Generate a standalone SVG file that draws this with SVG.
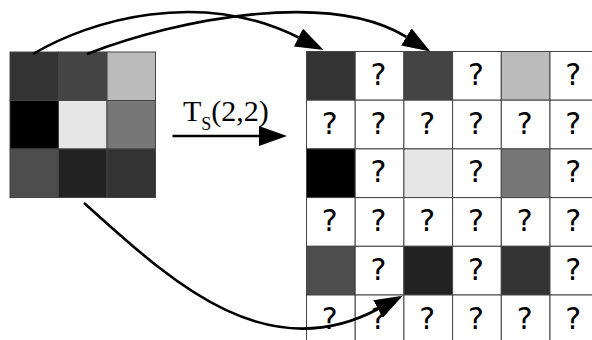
<svg xmlns="http://www.w3.org/2000/svg" width="592" height="340" viewBox="0 0 592 340">
<style>
.cell{stroke:#444;stroke-width:1}
.q{font-family:"DejaVu Sans",sans-serif;font-size:30px;fill:#000;text-anchor:middle}
.conn{fill:none;stroke:#000;stroke-width:2.6}
.lbl{font-family:"Liberation Serif",serif;font-size:30px;fill:#000}
</style>
<defs>
<marker id="ah" viewBox="0 0 28 20" markerWidth="28" markerHeight="20" refX="0" refY="10" orient="auto" markerUnits="userSpaceOnUse">
<path d="M0,0 L28,10 L0,20 Z" fill="#000"/>
</marker>
</defs>
<rect width="592" height="340" fill="#fff"/>
<g id="source">
<rect class="cell" x="10" y="52" width="48.5" height="48.5" fill="#333"/>
<rect class="cell" x="58.5" y="52" width="48.5" height="48.5" fill="#444"/>
<rect class="cell" x="107" y="52" width="48.5" height="48.5" fill="#bbb"/>
<rect class="cell" x="10" y="100.5" width="48.5" height="48.5" fill="#000"/>
<rect class="cell" x="58.5" y="100.5" width="48.5" height="48.5" fill="#e6e6e6"/>
<rect class="cell" x="107" y="100.5" width="48.5" height="48.5" fill="#777"/>
<rect class="cell" x="10" y="149" width="48.5" height="48.5" fill="#4d4d4d"/>
<rect class="cell" x="58.5" y="149" width="48.5" height="48.5" fill="#222"/>
<rect class="cell" x="107" y="149" width="48.5" height="48.5" fill="#333"/>
</g>
<g id="target">
<rect class="cell" x="306.5" y="51.5" width="48.7" height="48.7" fill="#333"/>
<rect class="cell" x="355.2" y="51.5" width="48.7" height="48.7" fill="#fff"/>
<rect class="cell" x="403.9" y="51.5" width="48.7" height="48.7" fill="#444"/>
<rect class="cell" x="452.6" y="51.5" width="48.7" height="48.7" fill="#fff"/>
<rect class="cell" x="501.3" y="51.5" width="48.7" height="48.7" fill="#bbb"/>
<rect class="cell" x="550" y="51.5" width="48.7" height="48.7" fill="#fff"/>
<rect class="cell" x="306.5" y="100.2" width="48.7" height="48.7" fill="#fff"/>
<rect class="cell" x="355.2" y="100.2" width="48.7" height="48.7" fill="#fff"/>
<rect class="cell" x="403.9" y="100.2" width="48.7" height="48.7" fill="#fff"/>
<rect class="cell" x="452.6" y="100.2" width="48.7" height="48.7" fill="#fff"/>
<rect class="cell" x="501.3" y="100.2" width="48.7" height="48.7" fill="#fff"/>
<rect class="cell" x="550" y="100.2" width="48.7" height="48.7" fill="#fff"/>
<rect class="cell" x="306.5" y="148.9" width="48.7" height="48.7" fill="#000"/>
<rect class="cell" x="355.2" y="148.9" width="48.7" height="48.7" fill="#fff"/>
<rect class="cell" x="403.9" y="148.9" width="48.7" height="48.7" fill="#e6e6e6"/>
<rect class="cell" x="452.6" y="148.9" width="48.7" height="48.7" fill="#fff"/>
<rect class="cell" x="501.3" y="148.9" width="48.7" height="48.7" fill="#777"/>
<rect class="cell" x="550" y="148.9" width="48.7" height="48.7" fill="#fff"/>
<rect class="cell" x="306.5" y="197.6" width="48.7" height="48.7" fill="#fff"/>
<rect class="cell" x="355.2" y="197.6" width="48.7" height="48.7" fill="#fff"/>
<rect class="cell" x="403.9" y="197.6" width="48.7" height="48.7" fill="#fff"/>
<rect class="cell" x="452.6" y="197.6" width="48.7" height="48.7" fill="#fff"/>
<rect class="cell" x="501.3" y="197.6" width="48.7" height="48.7" fill="#fff"/>
<rect class="cell" x="550" y="197.6" width="48.7" height="48.7" fill="#fff"/>
<rect class="cell" x="306.5" y="246.3" width="48.7" height="48.7" fill="#4d4d4d"/>
<rect class="cell" x="355.2" y="246.3" width="48.7" height="48.7" fill="#fff"/>
<rect class="cell" x="403.9" y="246.3" width="48.7" height="48.7" fill="#222"/>
<rect class="cell" x="452.6" y="246.3" width="48.7" height="48.7" fill="#fff"/>
<rect class="cell" x="501.3" y="246.3" width="48.7" height="48.7" fill="#333"/>
<rect class="cell" x="550" y="246.3" width="48.7" height="48.7" fill="#fff"/>
<rect class="cell" x="306.5" y="295" width="48.7" height="48.7" fill="#fff"/>
<rect class="cell" x="355.2" y="295" width="48.7" height="48.7" fill="#fff"/>
<rect class="cell" x="403.9" y="295" width="48.7" height="48.7" fill="#fff"/>
<rect class="cell" x="452.6" y="295" width="48.7" height="48.7" fill="#fff"/>
<rect class="cell" x="501.3" y="295" width="48.7" height="48.7" fill="#fff"/>
<rect class="cell" x="550" y="295" width="48.7" height="48.7" fill="#fff"/>
<text class="q" x="378.5" y="85">?</text>
<text class="q" x="476" y="85">?</text>
<text class="q" x="573.3" y="85">?</text>
<text class="q" x="329.8" y="133.7">?</text>
<text class="q" x="378.5" y="133.7">?</text>
<text class="q" x="427.2" y="133.7">?</text>
<text class="q" x="476" y="133.7">?</text>
<text class="q" x="524.6" y="133.7">?</text>
<text class="q" x="573.3" y="133.7">?</text>
<text class="q" x="378.5" y="182.4">?</text>
<text class="q" x="476" y="182.4">?</text>
<text class="q" x="573.3" y="182.4">?</text>
<text class="q" x="329.8" y="231.1">?</text>
<text class="q" x="378.5" y="231.1">?</text>
<text class="q" x="427.2" y="231.1">?</text>
<text class="q" x="476" y="231.1">?</text>
<text class="q" x="524.6" y="231.1">?</text>
<text class="q" x="573.3" y="231.1">?</text>
<text class="q" x="378.5" y="279.8">?</text>
<text class="q" x="476" y="279.8">?</text>
<text class="q" x="573.3" y="279.8">?</text>
<text class="q" x="329.8" y="328.5">?</text>
<text class="q" x="378.5" y="328.5">?</text>
<text class="q" x="427.2" y="328.5">?</text>
<text class="q" x="476" y="328.5">?</text>
<text class="q" x="524.6" y="328.5">?</text>
<text class="q" x="573.3" y="328.5">?</text>
</g>
<g id="connectors">
<path class="conn" d="M33,54 C90,20 200,-12 298.5,37.5" marker-end="url(#ah)"/>
<path class="conn" d="M87,54 C180,18 330,-10 406.4,36.9" marker-end="url(#ah)"/>
<path class="conn" d="M84,203 C160,270 260,372 378,309" marker-end="url(#ah)"/>
<path class="conn" d="M172.5,136 L259,136" marker-end="url(#ah)"/>
<text class="lbl" x="183" y="121">T<tspan font-size="18" dy="9">S</tspan><tspan dy="-9">(2,2)</tspan></text>
</g>
</svg>
